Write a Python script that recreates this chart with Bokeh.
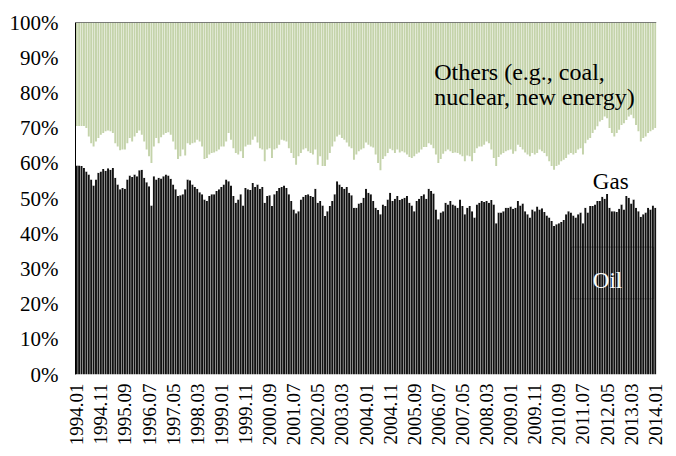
from bokeh.plotting import figure
from bokeh.models import ColumnDataSource, FixedTicker, PrintfTickFormatter, Label, BoxAnnotation, Span, Range1d
from bokeh.embed import file_html
from bokeh.resources import INLINE
import math

# Oil share of energy consumption (%), monthly 1994.01 - 2014.01
oil = [
    59.4, 59.4, 59.2, 58.7, 57.7, 56.8, 55.4, 53.7, 55.4, 57.3, 57.7, 58.4,  # 1994
    57.9, 58.6, 58.2, 58.7, 55.9, 54.0, 52.6, 53.0, 52.8, 55.4, 56.5, 56.1,  # 1995
    56.8, 56.3, 58.0, 58.2, 55.9, 54.6, 53.5, 48.0, 56.3, 55.4, 55.9, 55.7,  # 1996
    56.3, 56.8, 56.5, 55.6, 54.0, 52.6, 50.7, 50.9, 51.2, 52.6, 55.4, 55.2,  # 1997
    54.0, 53.3, 52.8, 51.8, 51.2, 49.7, 49.3, 50.7, 51.2, 51.2, 52.1, 52.6,  # 1998
    53.3, 54.0, 55.4, 54.9, 53.7, 50.7, 48.8, 49.7, 51.2, 48.0, 53.0, 52.6,  # 1999
    52.4, 54.4, 53.3, 54.0, 52.8, 53.3, 48.8, 50.7, 50.9, 47.9, 51.2, 52.1,  # 2000
    53.0, 53.3, 53.7, 53.0, 51.2, 49.3, 46.9, 45.8, 46.4, 49.7, 50.5, 51.0,  # 2001
    51.2, 50.7, 50.5, 52.8, 48.8, 49.3, 48.0, 45.0, 46.4, 47.9, 49.3, 51.2,  # 2002
    54.9, 54.0, 53.3, 52.8, 53.3, 51.6, 50.9, 47.4, 47.4, 48.6, 48.8, 50.2,  # 2003
    52.8, 51.6, 51.2, 49.3, 47.4, 46.7, 45.5, 48.3, 47.9, 49.7, 51.6, 49.3,  # 2004
    49.9, 50.7, 49.6, 49.9, 50.2, 50.7, 48.8, 48.0, 46.4, 49.3, 49.9, 50.7,  # 2005
    51.2, 49.9, 52.8, 52.1, 51.4, 46.9, 44.1, 46.0, 46.4, 48.8, 48.3, 49.3,  # 2006
    48.3, 48.0, 47.4, 49.7, 47.9, 45.5, 47.4, 47.9, 46.4, 44.6, 48.3, 48.8,  # 2007
    49.3, 49.0, 49.3, 48.8, 49.6, 48.3, 43.0, 46.0, 46.0, 46.4, 47.4, 47.4,  # 2008
    47.7, 47.1, 47.4, 49.3, 48.0, 48.6, 46.4, 45.5, 44.6, 46.9, 46.4, 47.7,  # 2009
    46.9, 47.2, 46.2, 45.2, 44.6, 43.6, 42.2, 42.7, 43.0, 43.3, 43.9, 45.5,  # 2010
    46.4, 46.0, 45.2, 44.6, 45.5, 46.0, 43.0, 47.4, 46.0, 47.9, 47.9, 48.3,  # 2011
    49.3, 49.3, 50.5, 49.9, 51.3, 47.4, 46.4, 46.4, 46.2, 47.1, 48.3, 46.9,  # 2012
    50.7, 50.2, 48.6, 49.7, 47.4, 46.4, 44.8, 45.5, 46.0, 47.4, 46.9, 48.0,  # 2013
    47.4,                                                                      # 2014.01
]

# Cumulative share of oil + gas (%)
oil_plus_gas = [
    70.6, 70.6, 70.6, 70.6, 70.0, 67.6, 65.7, 64.8, 66.2, 67.2, 68.1, 68.6,  # 1994
    69.1, 69.3, 69.1, 68.6, 65.7, 64.8, 63.7, 63.9, 63.9, 65.7, 67.2, 66.2,  # 1995
    67.6, 68.6, 69.3, 68.1, 66.2, 63.9, 62.0, 60.1, 64.8, 67.2, 65.7, 67.4,  # 1996
    68.1, 68.6, 68.8, 68.1, 66.2, 63.9, 61.2, 62.0, 63.9, 62.2, 65.7, 65.3,  # 1997
    65.7, 65.9, 66.7, 66.2, 64.8, 61.2, 61.5, 62.5, 62.9, 63.1, 63.4, 63.9,  # 1998
    64.8, 64.8, 66.2, 68.6, 66.7, 64.3, 62.9, 62.5, 63.4, 61.5, 64.8, 65.3,  # 1999
    65.3, 66.7, 67.6, 65.9, 64.3, 63.9, 60.6, 63.9, 64.3, 61.5, 63.9, 64.3,  # 2000
    65.3, 66.7, 66.5, 66.2, 64.3, 62.9, 61.5, 59.6, 62.0, 62.9, 63.9, 64.3,  # 2001
    63.4, 62.9, 62.5, 63.9, 59.6, 62.0, 59.2, 59.2, 61.0, 62.9, 64.8, 66.2,  # 2002
    67.6, 68.1, 67.2, 66.7, 65.9, 64.8, 64.3, 61.0, 62.5, 63.4, 63.9, 64.3,  # 2003
    65.9, 65.3, 64.8, 64.5, 62.5, 60.1, 58.0, 61.2, 62.0, 62.9, 64.1, 63.7,  # 2004
    62.9, 63.9, 63.1, 63.4, 63.1, 62.5, 61.8, 61.5, 62.0, 62.7, 63.1, 63.9,  # 2005
    64.6, 64.6, 65.7, 65.3, 64.3, 62.5, 60.1, 61.2, 62.7, 63.4, 63.9, 63.4,  # 2006
    62.9, 63.1, 62.9, 62.5, 62.0, 60.6, 62.2, 62.0, 60.6, 62.9, 64.3, 64.8,  # 2007
    64.8, 65.3, 66.2, 65.7, 63.9, 61.5, 59.2, 61.8, 62.5, 62.9, 63.4, 63.7,  # 2008
    63.9, 62.7, 63.4, 65.3, 64.6, 63.9, 63.1, 62.5, 62.0, 62.9, 62.5, 62.9,  # 2009
    63.9, 63.4, 62.9, 62.0, 60.6, 59.2, 58.2, 59.2, 59.6, 60.6, 61.0, 61.5,  # 2010
    62.5, 62.9, 62.5, 62.9, 63.9, 64.3, 62.5, 65.7, 66.7, 67.2, 68.6, 69.5,  # 2011
    70.5, 71.9, 72.3, 73.3, 72.8, 70.0, 68.6, 67.6, 68.6, 69.5, 70.9, 71.4,  # 2012
    72.3, 73.3, 73.8, 72.8, 70.9, 69.1, 66.2, 67.2, 67.6, 68.6, 69.1, 69.5,  # 2013
    70.0,                                                                      # 2014.01
]

first_year = 1994
n_months = len(oil)
months = ["%d.%02d" % (first_year + k // 12, k % 12 + 1) for k in range(n_months)]
label_step = 10
y_ticks = [0, 10, 20, 30, 40, 50, 60, 70, 80, 90, 100]

gas = [round(t - o, 2) for t, o in zip(oil_plus_gas, oil)]
others = [round(100 - t, 2) for t in oil_plus_gas]

source = ColumnDataSource(dict(x=list(range(n_months)), oil=oil, gas=gas, others=others, month=months))

SERIF = "Liberation Serif"

p = figure(width=668, height=448, output_backend="svg", toolbar_location=None,
           x_range=Range1d(-0.5, n_months - 0.5), y_range=Range1d(0, 100),
           min_border_left=75, min_border_right=12, min_border_top=22, min_border_bottom=72,
           background_fill_color="white", border_fill_color="white")
p.outline_line_color = None
p.grid.visible = False

p.vbar_stack(["oil", "gas", "others"], x="x", width=0.8, source=source,
             color=["#111111", "#ffffff", "#c4d3aa"], line_color=None)

# Axes
p.yaxis.ticker = FixedTicker(ticks=y_ticks)
p.yaxis.formatter = PrintfTickFormatter(format="%d%%")
p.yaxis.major_label_text_font = SERIF
p.yaxis.major_label_text_font_size = "21px"
p.yaxis.major_label_text_color = "black"
p.yaxis.major_tick_line_color = None
p.yaxis.minor_tick_line_color = None
p.yaxis.major_tick_out = 0
p.yaxis.major_label_standoff = 17
p.yaxis.axis_line_color = "black"
p.yaxis.axis_line_width = 1

tick_idx = list(range(0, n_months, label_step))
p.xaxis.ticker = FixedTicker(ticks=tick_idx)
p.xaxis.major_label_overrides = {i: months[i] for i in tick_idx}
p.xaxis.major_label_orientation = math.pi / 2
p.xaxis.major_label_text_font = SERIF
p.xaxis.major_label_text_font_size = "19px"
p.xaxis.major_label_text_color = "black"
p.xaxis.major_tick_line_color = None
p.xaxis.minor_tick_line_color = None
p.xaxis.major_tick_out = 0
p.xaxis.major_label_standoff = 9
p.xaxis.axis_line_color = None

p.add_layout(Span(location=100, dimension="width", line_color="black", line_width=1))

# Annotations
p.add_layout(Label(x=148.3, y=85.9, text="Others (e.g., coal,", text_font=SERIF,
                   text_font_size="24px", text_color="black", text_baseline="alphabetic"))
p.add_layout(Label(x=148.3, y=78.8, text="nuclear, new energy)", text_font=SERIF,
                   text_font_size="24px", text_color="black", text_baseline="alphabetic"))
p.add_layout(Label(x=214.1, y=54.9, text="Gas", text_font=SERIF,
                   text_font_size="23px", text_color="black", text_baseline="alphabetic"))
p.add_layout(BoxAnnotation(left=205.2, right=239.3, bottom=21.5, top=36.2,
                           fill_alpha=0, line_color="black", line_width=1))
p.add_layout(Label(x=214.1, y=26.8, text="Oil", text_font=SERIF,
                   text_font_size="23px", text_color="white", text_baseline="alphabetic"))

open("out.html", "w").write(file_html(p, INLINE))
